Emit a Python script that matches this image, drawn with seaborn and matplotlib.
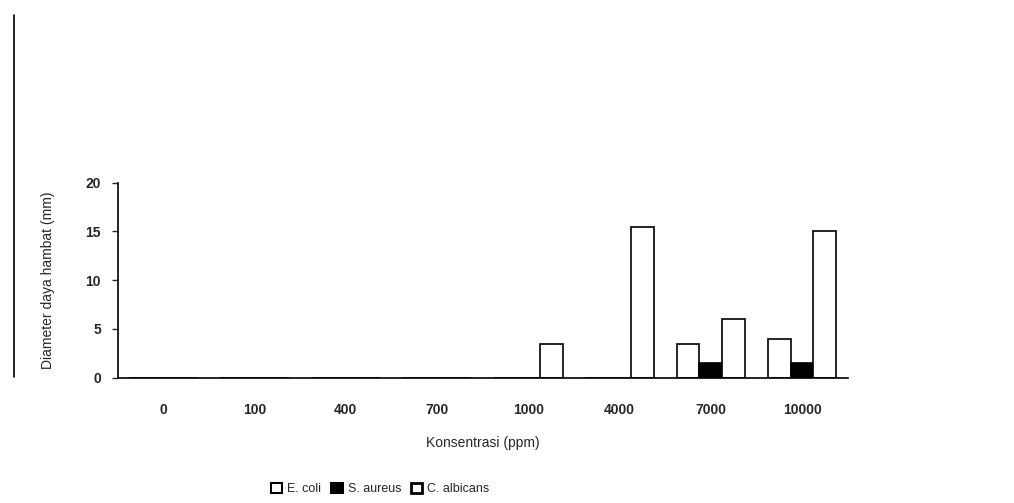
import pandas as pd
import matplotlib.pyplot as plt
import seaborn as sns
from matplotlib.lines import Line2D

# Data
konsentrasi = ['0', '100', '400', '700', '1000', '4000', '7000', '10000']
e_coli = [0, 0, 0, 0, 0, 0, 3.5, 4.0]
s_aureus = [0, 0, 0, 0, 0, 0, 1.5, 1.5]
c_albicans = [0, 0, 0, 0, 3.5, 15.5, 6.0, 15.0]
series = ['E. coli', 'S. aureus', 'C. albicans']

df = pd.DataFrame({
    'Konsentrasi': konsentrasi * 3,
    'Diameter': e_coli + s_aureus + c_albicans,
    'Mikroba': [s for s in series for _ in konsentrasi],
})

sns.set_style('white')
plt.rcParams['font.family'] = ['Liberation Sans', 'DejaVu Sans']

fig = plt.figure(figsize=(10.14, 5.03), dpi=100)
ax = fig.add_axes([0.116, 0.249, 0.72, 0.388])

palette = {'E. coli': 'white', 'S. aureus': 'black', 'C. albicans': 'white'}
sns.barplot(data=df, x='Konsentrasi', y='Diameter', hue='Mikroba',
            order=konsentrasi, hue_order=series, palette=palette,
            edgecolor='black', linewidth=1.2, width=0.75, ax=ax, legend=False)

ax.set_ylim(0, 20)
ax.set_yticks([0, 5, 10, 15, 20])
ax.set_xlim(-0.5, len(konsentrasi) - 0.5)
ax.tick_params(axis='y', length=4, width=1, labelsize=10, direction='out', left=True, pad=8)
ax.tick_params(axis='x', length=0, labelsize=10, pad=18)
for lbl in ax.get_xticklabels() + ax.get_yticklabels():
    lbl.set_fontweight('bold')

sns.despine(ax=ax)
ax.spines['left'].set_linewidth(1.2)
ax.spines['bottom'].set_linewidth(1.2)
ax.spines['left'].set_color('black')
ax.spines['bottom'].set_color('black')

ax.set_xlabel('Konsentrasi (ppm)', fontsize=10, labelpad=14)
ax.set_ylabel('Diameter daya hambat (mm)', fontsize=10, labelpad=22)

# scan edge line on the left
fig.add_artist(Line2D([0.014, 0.014], [0.25, 0.97], color='black', lw=1.2))

handles = [
    plt.Rectangle((0, 0), 1, 1, facecolor='white', edgecolor='black', lw=1.5),
    plt.Rectangle((0, 0), 1, 1, facecolor='black', edgecolor='black', lw=1.5),
    plt.Rectangle((0, 0), 1, 1, facecolor='white', edgecolor='black', lw=2),
]
fig.legend(handles, series, loc='center', bbox_to_anchor=(0.375, 0.028), ncol=3,
           frameon=False, fontsize=9, handlelength=0.9, handleheight=0.9,
           handletextpad=0.4, columnspacing=0.8)

fig.savefig('out.png', dpi=100)
